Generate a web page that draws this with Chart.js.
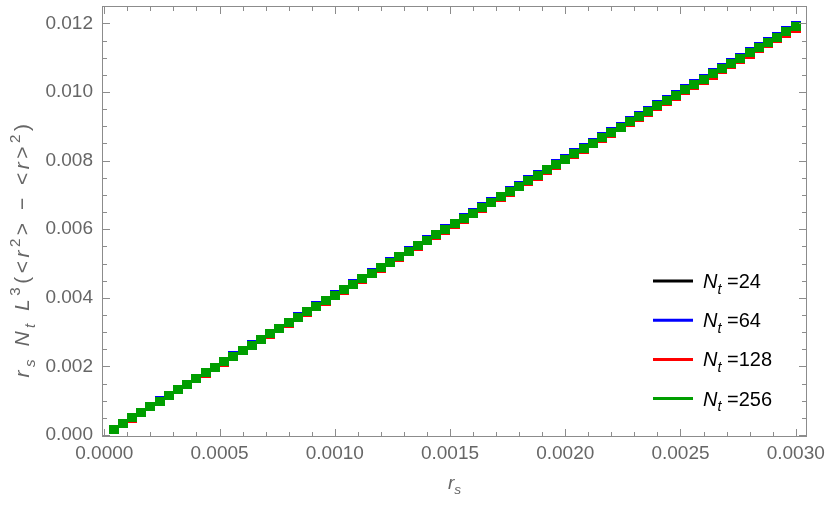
<!DOCTYPE html>
<html>
<head>
<meta charset="utf-8">
<script src="https://cdn.jsdelivr.net/npm/chart.js@4/dist/chart.umd.min.js"></script>
<style>
  body { margin: 0; background: #fff; }
</style>
</head>
<body>
<canvas id="grafico" width="830" height="513"></canvas>
<script>
// r_s values (x)
const rs = [0.00004,0.00008,0.00012,0.00016,0.0002,0.00024,0.00028,0.00032,0.00036,0.0004,
  0.00044,0.00048,0.00052,0.00056,0.0006,0.00064,0.00068,0.00072,0.00076,0.0008,
  0.00084,0.00088,0.00092,0.00096,0.001,0.00104,0.00108,0.00112,0.00116,0.0012,
  0.00124,0.00128,0.00132,0.00136,0.0014,0.00144,0.00148,0.00152,0.00156,0.0016,
  0.00164,0.00168,0.00172,0.00176,0.0018,0.00184,0.00188,0.00192,0.00196,0.002,
  0.00204,0.00208,0.00212,0.00216,0.0022,0.00224,0.00228,0.00232,0.00236,0.0024,
  0.00244,0.00248,0.00252,0.00256,0.0026,0.00264,0.00268,0.00272,0.00276,0.0028,
  0.00284,0.00288,0.00292,0.00296,0.003];

const nt24 = [0.000165,0.000330,0.000495,0.000660,0.000825,0.000989,0.001153,0.001317,0.001481,0.001645,
  0.001809,0.001972,0.002135,0.002298,0.002461,0.002624,0.002786,0.002949,0.003111,0.003272,
  0.003434,0.003597,0.003758,0.003919,0.004080,0.004241,0.004401,0.004563,0.004723,0.004883,
  0.005043,0.005203,0.005363,0.005523,0.005682,0.005841,0.006000,0.006159,0.006317,0.006476,
  0.006635,0.006793,0.006951,0.007109,0.007266,0.007423,0.007582,0.007739,0.007895,0.008052,
  0.008209,0.008365,0.008522,0.008678,0.008834,0.008989,0.009145,0.009300,0.009455,0.009611,
  0.009766,0.009920,0.010075,0.010229,0.010383,0.010538,0.010692,0.010845,0.010999,0.011152,
  0.011305,0.011458,0.011611,0.011764,0.011916];

const nt64 = [0.000166,0.000331,0.000497,0.000661,0.000826,0.000991,0.001155,0.001320,0.001484,0.001648,
  0.001812,0.001976,0.002139,0.002303,0.002466,0.002629,0.002791,0.002955,0.003117,0.003279,
  0.003441,0.003604,0.003765,0.003927,0.004088,0.004250,0.004410,0.004572,0.004732,0.004893,
  0.005053,0.005214,0.005374,0.005534,0.005693,0.005853,0.006012,0.006171,0.006330,0.006489,
  0.006648,0.006806,0.006965,0.007123,0.007281,0.007438,0.007597,0.007754,0.007911,0.008068,
  0.008226,0.008382,0.008539,0.008695,0.008851,0.009007,0.009163,0.009319,0.009474,0.009630,
  0.009785,0.009940,0.010095,0.010250,0.010404,0.010559,0.010713,0.010867,0.011021,0.011174,
  0.011328,0.011481,0.011634,0.011787,0.011940];

const nt128 = [0.000164,0.000329,0.000493,0.000657,0.000822,0.000985,0.001149,0.001312,0.001476,0.001638,
  0.001802,0.001964,0.002127,0.002289,0.002452,0.002613,0.002775,0.002937,0.003099,0.003259,
  0.003421,0.003582,0.003743,0.003903,0.004064,0.004224,0.004384,0.004544,0.004704,0.004863,
  0.005023,0.005182,0.005342,0.005500,0.005659,0.005818,0.005976,0.006135,0.006292,0.006451,
  0.006608,0.006766,0.006923,0.007081,0.007237,0.007394,0.007551,0.007708,0.007863,0.008020,
  0.008176,0.008332,0.008487,0.008643,0.008799,0.008953,0.009109,0.009263,0.009418,0.009572,
  0.009727,0.009880,0.010035,0.010188,0.010342,0.010495,0.010649,0.010802,0.010955,0.011108,
  0.011260,0.011413,0.011564,0.011717,0.011868];

const nt256 = [0.000165,0.000330,0.000495,0.000659,0.000824,0.000988,0.001152,0.001316,0.001480,0.001643,
  0.001807,0.001970,0.002133,0.002296,0.002459,0.002621,0.002783,0.002946,0.003108,0.003269,
  0.003431,0.003593,0.003754,0.003915,0.004076,0.004237,0.004397,0.004558,0.004718,0.004878,
  0.005038,0.005198,0.005358,0.005517,0.005676,0.005835,0.005994,0.006153,0.006311,0.006470,
  0.006628,0.006786,0.006944,0.007102,0.007259,0.007416,0.007574,0.007731,0.007887,0.008044,
  0.008201,0.008357,0.008513,0.008669,0.008825,0.008980,0.009136,0.009291,0.009446,0.009601,
  0.009756,0.009910,0.010065,0.010219,0.010373,0.010527,0.010681,0.010834,0.010988,0.011141,
  0.011294,0.011447,0.011599,0.011752,0.011904];

const series = [
  { nt: '24',  data: nt24,  color: '#000000' },
  { nt: '64',  data: nt64,  color: '#0000ff' },
  { nt: '128', data: nt128, color: '#ff0000' },
  { nt: '256', data: nt256, color: '#009e00' }
];

const xTicks = [0, 0.0005, 0.001, 0.0015, 0.002, 0.0025, 0.003];
const yTicks = [0, 0.002, 0.004, 0.006, 0.008, 0.010, 0.012];

const fonte = '"Liberation Sans", Arial, sans-serif';
const cinza = '#666666';

// crisp square marker (drawImage is not antialiased for axis aligned draws)
const quadrado = (cor) => {
  const c = document.createElement('canvas');
  c.width = 10; c.height = 9;
  const g = c.getContext('2d');
  g.fillStyle = cor;
  g.fillRect(0, 0, 10, 9);
  return c;
}

// text made of runs: {t, it (italic), s: 'sub' | 'sup'}
const medirRuns = (ctx, runs, size) => {
  let w = 0;
  runs.forEach(r => {
    const sz = r.s ? size * 0.72 : size;
    ctx.font = (r.it ? 'italic ' : '') + sz + 'px ' + fonte;
    w += ctx.measureText(r.t).width;
  });
  return w;
}

const desenharRuns = (ctx, runs, x, y, size, align) => {
  let cx = align === 'center' ? x - medirRuns(ctx, runs, size) / 2 : x;
  ctx.textBaseline = 'alphabetic';
  ctx.textAlign = 'left';
  runs.forEach(r => {
    const sz = r.s ? size * 0.72 : size;
    ctx.font = (r.it ? 'italic ' : '') + sz + 'px ' + fonte;
    let dy = 0;
    if (r.s === 'sub') dy = size * 0.28;
    if (r.s === 'sup') dy = -size * 0.42;
    ctx.fillText(r.t, cx, y + dy);
    cx += ctx.measureText(r.t).width;
  });
}

const molduraPlugin = {
  id: 'moldura',
  afterDraw(chart) {
    const ctx = chart.ctx;
    const a = chart.chartArea;
    const sx = chart.scales.x, sy = chart.scales.y;
    ctx.save();
    ctx.strokeStyle = '#8c8c8c';
    ctx.lineWidth = 1;
    ctx.strokeRect(Math.round(a.left) + 0.5, Math.round(a.top) + 0.5,
      Math.round(a.right - a.left) - 1, Math.round(a.bottom - a.top) - 1);

    const tick = (x1, y1, x2, y2) => {
      ctx.beginPath(); ctx.moveTo(x1, y1); ctx.lineTo(x2, y2); ctx.stroke();
    };
    // ticks on all four sides, pointing inwards
    for (let i = 0; i < xTicks.length; i++) {
      const px = Math.round(sx.getPixelForValue(xTicks[i])) + 0.5;
      tick(px, a.bottom, px, a.bottom - 8);
      tick(px, a.top, px, a.top + 8);
      if (i < xTicks.length - 1) {
        const passo = (xTicks[i + 1] - xTicks[i]) / 5;
        for (let k = 1; k < 5; k++) {
          const pm = Math.round(sx.getPixelForValue(xTicks[i] + k * passo)) + 0.5;
          tick(pm, a.bottom, pm, a.bottom - 5);
          tick(pm, a.top, pm, a.top + 5);
        }
      }
    }
    for (let i = 0; i < yTicks.length; i++) {
      const py = Math.round(sy.getPixelForValue(yTicks[i])) + 0.5;
      tick(a.left, py, a.left + 8, py);
      tick(a.right, py, a.right - 8, py);
      if (i < yTicks.length - 1) {
        const passo = (yTicks[i + 1] - yTicks[i]) / 4;
        for (let k = 1; k < 4; k++) {
          const pm = Math.round(sy.getPixelForValue(yTicks[i] + k * passo)) + 0.5;
          tick(a.left, pm, a.left + 5, pm);
          tick(a.right, pm, a.right - 5, pm);
        }
      }
    }

    // axis titles
    ctx.fillStyle = cinza;
    desenharRuns(ctx, [{ t: 'r', it: true }, { t: 's', it: true, s: 'sub' }],
      (a.left + a.right) / 2, 489, 19, 'center');

    ctx.save();
    ctx.translate(29, 249);
    ctx.rotate(-Math.PI / 2);
    ctx.letterSpacing = '3.5px';
    desenharRuns(ctx, [
      { t: 'r', it: true }, { t: 's', it: true, s: 'sub' }, { t: ' ' },
      { t: 'N', it: true }, { t: 't', it: true, s: 'sub' }, { t: ' ' },
      { t: 'L', it: true }, { t: '3', s: 'sup' },
      { t: '(<' }, { t: 'r', it: true }, { t: '2', s: 'sup' },
      { t: '> \u2212 <' }, { t: 'r', it: true }, { t: '>' }, { t: '2', s: 'sup' }, { t: ')' }
    ], 0, 0, 21, 'center');
    ctx.letterSpacing = '0px';
    ctx.restore();

    // legend
    series.forEach((s, i) => {
      const ly = 281 + i * 39.2;
      ctx.strokeStyle = s.color;
      ctx.lineWidth = 3;
      tick(653, ly, 693, ly);
      ctx.fillStyle = '#000';
      desenharRuns(ctx, [{ t: 'N', it: true }, { t: 't', it: true, s: 'sub' }, { t: ' =' + s.nt }],
        703, ly + 7, 20, 'left');
    });
    ctx.restore();
  }
};

const datasets = series.map((s, i) => ({
  label: 'Nt=' + s.nt,
  data: rs.map((x, j) => ({ x: x, y: s.data[j] })),
  showLine: false,
  pointStyle: quadrado(s.color),
  pointRadius: 5,
  pointHoverRadius: 5,
  backgroundColor: s.color,
  borderColor: s.color,
  order: 3 - i
}));

new Chart(document.querySelector('#grafico'), {
  type: 'scatter',
  data: { datasets: datasets },
  plugins: [molduraPlugin],
  options: {
    responsive: false,
    animation: false,
    devicePixelRatio: 1,
    layout: { padding: { top: 2, right: 23, left: 0, bottom: 0 } },
    plugins: { legend: { display: false }, tooltip: { enabled: false } },
    scales: {
      x: {
        type: 'linear',
        min: -0.00001,
        max: 0.003049,
        afterBuildTicks: s => { s.ticks = xTicks.map(v => ({ value: v })); },
        afterFit: s => { s.height = 76; s.paddingLeft = 0; s.paddingRight = 0; },
        ticks: {
          callback: v => v.toFixed(4),
          font: { family: fonte, size: 19 },
          color: cinza,
          padding: 5,
          maxRotation: 0,
          autoSkip: false
        },
        grid: { display: false, drawTicks: false },
        border: { display: false }
      },
      y: {
        type: 'linear',
        min: -0.00006,
        max: 0.01251,
        afterBuildTicks: s => { s.ticks = yTicks.map(v => ({ value: v })); },
        afterFit: s => { s.width = 102; s.paddingTop = 0; s.paddingBottom = 0; },
        ticks: {
          callback: v => v.toFixed(3),
          font: { family: fonte, size: 19 },
          color: cinza,
          padding: 9,
          autoSkip: false
        },
        grid: { display: false, drawTicks: false },
        border: { display: false }
      }
    }
  }
});
</script>
</body>
</html>
